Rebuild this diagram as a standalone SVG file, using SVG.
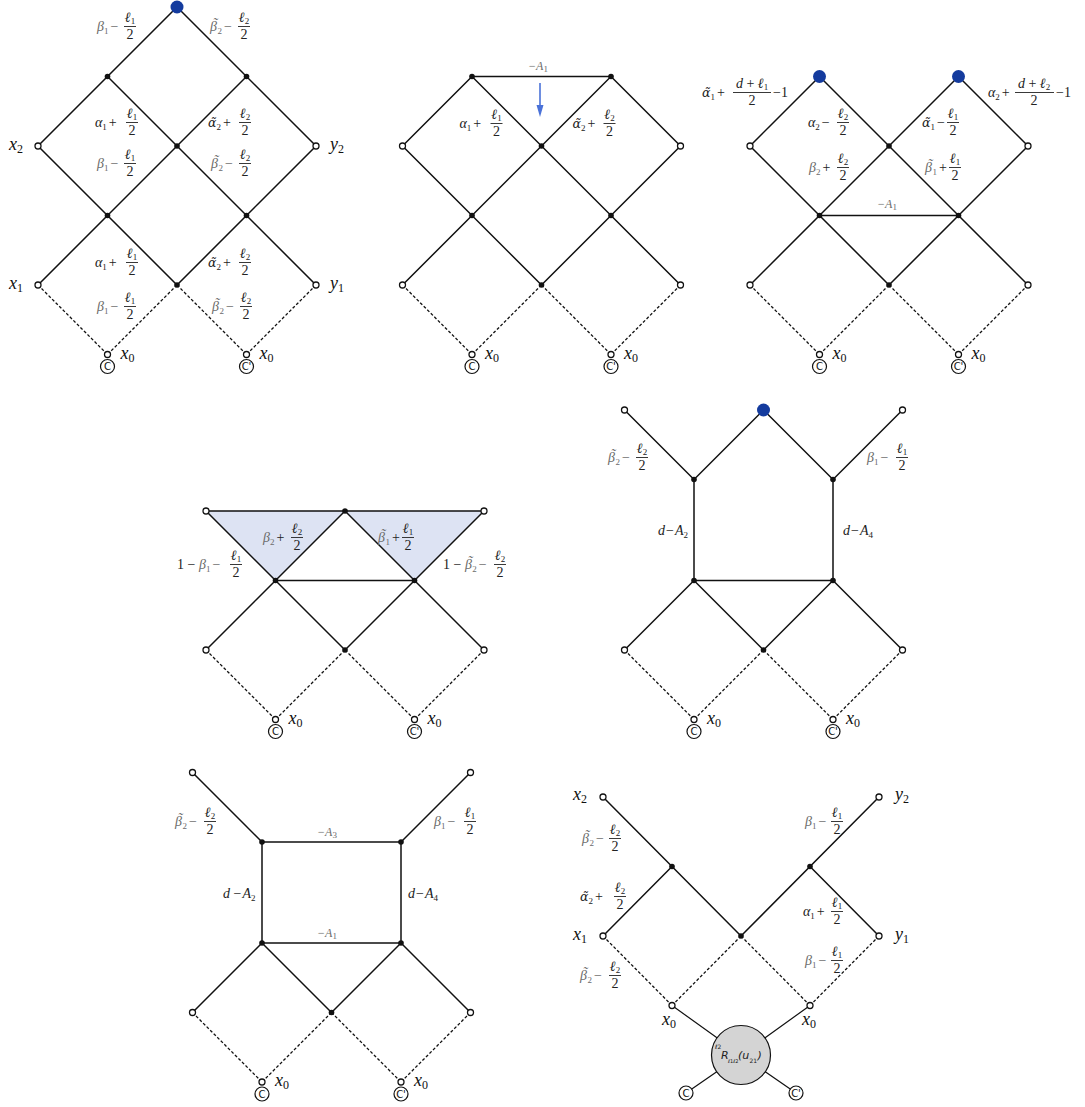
<svg xmlns="http://www.w3.org/2000/svg" width="1085" height="1107" viewBox="0 0 1085 1107">
<style>
.s{stroke:#111;stroke-width:1.5;fill:none}
.d{stroke:#111;stroke-width:1.3;fill:none;stroke-dasharray:3 2}
.tri{fill:#dde3f3;stroke:none}
.L{font-family:"Liberation Serif","Times New Roman",serif;font-size:14px;font-style:italic;fill:#222}
.u{font-style:normal}
.sb{font-size:9px;font-style:normal}
.dj{font-family:"DejaVu Serif",serif;font-size:12.5px}
.g{fill:#6b6b6b}
.m{text-anchor:middle}
.fb{stroke:#222;stroke-width:0.9}
.X{font-family:"Liberation Serif","Times New Roman",serif;font-size:18px;font-style:italic;fill:#111}
.xs{font-size:12px;font-style:normal}
.A{font-size:12px}
.rt{font-family:"DejaVu Sans",sans-serif;fill:#222}
</style>
<defs>
<circle id="od" r="3" fill="#fff" stroke="#111" stroke-width="1.3"/>
<circle id="fd" r="2.8" fill="#111"/>
<circle id="bd" r="6.5" fill="#143b9e"/>
<g id="cC"><circle r="7" fill="#fff" stroke="#111" stroke-width="1.2"/><text y="3.6" font-family="DejaVu Sans, sans-serif" font-size="10" text-anchor="middle" fill="#111">C</text></g>
<g id="cCp"><circle r="7" fill="#fff" stroke="#111" stroke-width="1.2"/><text y="3.6" font-family="DejaVu Sans, sans-serif" font-size="10" text-anchor="middle" fill="#111">C'</text></g>
</defs>

<!-- ===== Panel 1 ===== -->
<g id="panel1">
<g id="p1-edges">
<path class="s" d="M177,7L38,146L107.5,215.5M177,7L316,146L246.5,215.5M107.5,76.5L246.5,215.5M246.5,76.5L107.5,215.5M107.5,215.5L38,285M107.5,215.5L177,285M246.5,215.5L177,285M246.5,215.5L316,285"/>
<path class="d" d="M38,285L107.5,354.5M177,285L107.5,354.5M177,285L246.5,354.5M316,285L246.5,354.5"/>
</g>
<g id="p1-top"><use href="#bd" x="177" y="7"/></g>
<g id="p1-a"><use href="#fd" x="107.5" y="76.5"/></g>
<g id="p1-b"><use href="#fd" x="246.5" y="76.5"/></g>
<g id="p1-x2"><use href="#od" x="38" y="146"/></g>
<g id="p1-c"><use href="#fd" x="177" y="146"/></g>
<g id="p1-y2"><use href="#od" x="316" y="146"/></g>
<g id="p1-d"><use href="#fd" x="107.5" y="215.5"/></g>
<g id="p1-e"><use href="#fd" x="246.5" y="215.5"/></g>
<g id="p1-x1"><use href="#od" x="38" y="285"/></g>
<g id="p1-f"><use href="#fd" x="177" y="285"/></g>
<g id="p1-y1"><use href="#od" x="316" y="285"/></g>
<g id="p1-x0a"><use href="#od" x="107.5" y="354.5"/></g>
<g id="p1-x0b"><use href="#od" x="246.5" y="354.5"/></g>
<g id="p1-C"><use href="#cC" x="107.5" y="366.5"/></g>
<g id="p1-Cp"><use href="#cCp" x="246.5" y="366.5"/></g>
</g>

<!-- ===== Panel 2 ===== -->
<g id="panel2" transform="translate(364.5,0)">
<g id="p2-edges">
<path class="s" d="M107.5,76.5L246.5,76.5M107.5,76.5L38,146L107.5,215.5M246.5,76.5L316,146L246.5,215.5M107.5,76.5L246.5,215.5M246.5,76.5L107.5,215.5M107.5,215.5L38,285M107.5,215.5L177,285M246.5,215.5L177,285M246.5,215.5L316,285"/>
<path class="d" d="M38,285L107.5,354.5M177,285L107.5,354.5M177,285L246.5,354.5M316,285L246.5,354.5"/>
</g>
<g id="p2-a"><use href="#fd" x="107.5" y="76.5"/></g>
<g id="p2-b"><use href="#fd" x="246.5" y="76.5"/></g>
<g id="p2-l"><use href="#od" x="38" y="146"/></g>
<g id="p2-c"><use href="#fd" x="177" y="146"/></g>
<g id="p2-r"><use href="#od" x="316" y="146"/></g>
<g id="p2-d"><use href="#fd" x="107.5" y="215.5"/></g>
<g id="p2-e"><use href="#fd" x="246.5" y="215.5"/></g>
<g id="p2-l2"><use href="#od" x="38" y="285"/></g>
<g id="p2-f"><use href="#fd" x="177" y="285"/></g>
<g id="p2-r2"><use href="#od" x="316" y="285"/></g>
<g id="p2-x0a"><use href="#od" x="107.5" y="354.5"/></g>
<g id="p2-x0b"><use href="#od" x="246.5" y="354.5"/></g>
<g id="p2-C"><use href="#cC" x="107.5" y="366.5"/></g>
<g id="p2-Cp"><use href="#cCp" x="246.5" y="366.5"/></g>
</g>
<g id="p2-arrow">
<line x1="540" y1="83" x2="540" y2="107" stroke="#4a72d8" stroke-width="1.6"/>
<polygon points="536.5,105 543.5,105 540,117" fill="#4a72d8"/>
</g>

<!-- ===== Panel 3 ===== -->
<g id="panel3" transform="translate(712,0)">
<g id="p3-edges">
<path class="s" d="M107.5,76.5L38,146L107.5,215.5M246.5,76.5L316,146L246.5,215.5M107.5,76.5L246.5,215.5M246.5,76.5L107.5,215.5M107.5,215.5L246.5,215.5M107.5,215.5L38,285M107.5,215.5L177,285M246.5,215.5L177,285M246.5,215.5L316,285"/>
<path class="d" d="M38,285L107.5,354.5M177,285L107.5,354.5M177,285L246.5,354.5M316,285L246.5,354.5"/>
</g>
<g id="p3-ba"><use href="#bd" x="107.5" y="76.5"/></g>
<g id="p3-bb"><use href="#bd" x="246.5" y="76.5"/></g>
<g id="p3-l"><use href="#od" x="38" y="146"/></g>
<g id="p3-c"><use href="#fd" x="177" y="146"/></g>
<g id="p3-r"><use href="#od" x="316" y="146"/></g>
<g id="p3-d"><use href="#fd" x="107.5" y="215.5"/></g>
<g id="p3-e"><use href="#fd" x="246.5" y="215.5"/></g>
<g id="p3-l2"><use href="#od" x="38" y="285"/></g>
<g id="p3-f"><use href="#fd" x="177" y="285"/></g>
<g id="p3-r2"><use href="#od" x="316" y="285"/></g>
<g id="p3-x0a"><use href="#od" x="107.5" y="354.5"/></g>
<g id="p3-x0b"><use href="#od" x="246.5" y="354.5"/></g>
<g id="p3-C"><use href="#cC" x="107.5" y="366.5"/></g>
<g id="p3-Cp"><use href="#cCp" x="246.5" y="366.5"/></g>
</g>

<!-- ===== Panel 4 ===== -->
<g id="panel4" transform="translate(168,365)">
<polygon class="tri" points="38,146 177,146 107.5,215.5"/>
<polygon class="tri" points="177,146 316,146 246.5,215.5"/>
<g id="p4-edges">
<path class="s" d="M38,146L316,146M38,146L107.5,215.5M177,146L107.5,215.5M177,146L246.5,215.5M316,146L246.5,215.5M107.5,215.5L246.5,215.5M107.5,215.5L38,285M107.5,215.5L177,285M246.5,215.5L177,285M246.5,215.5L316,285"/>
<path class="d" d="M38,285L107.5,354.5M177,285L107.5,354.5M177,285L246.5,354.5M316,285L246.5,354.5"/>
</g>
<g id="p4-l"><use href="#od" x="38" y="146"/></g>
<g id="p4-c"><use href="#fd" x="177" y="146"/></g>
<g id="p4-r"><use href="#od" x="316" y="146"/></g>
<g id="p4-d"><use href="#fd" x="107.5" y="215.5"/></g>
<g id="p4-e"><use href="#fd" x="246.5" y="215.5"/></g>
<g id="p4-l2"><use href="#od" x="38" y="285"/></g>
<g id="p4-f"><use href="#fd" x="177" y="285"/></g>
<g id="p4-r2"><use href="#od" x="316" y="285"/></g>
<g id="p4-x0a"><use href="#od" x="107.5" y="354.5"/></g>
<g id="p4-x0b"><use href="#od" x="246.5" y="354.5"/></g>
<g id="p4-C"><use href="#cC" x="107.5" y="366.5"/></g>
<g id="p4-Cp"><use href="#cCp" x="246.5" y="366.5"/></g>
</g>

<!-- ===== Panel 5 ===== -->
<g id="panel5" transform="translate(586.5,365)">
<g id="p5-edges">
<path class="s" d="M38,45L107.5,114.5L177,45L246.5,114.5L316,45M107.5,114.5L107.5,215.5L246.5,215.5L246.5,114.5M107.5,215.5L38,285M107.5,215.5L177,285M246.5,215.5L177,285M246.5,215.5L316,285"/>
<path class="d" d="M38,285L107.5,354.5M177,285L107.5,354.5M177,285L246.5,354.5M316,285L246.5,354.5"/>
</g>
<g id="p5-l"><use href="#od" x="38" y="45"/></g>
<g id="p5-top"><use href="#bd" x="177" y="45"/></g>
<g id="p5-r"><use href="#od" x="316" y="45"/></g>
<g id="p5-a"><use href="#fd" x="107.5" y="114.5"/></g>
<g id="p5-b"><use href="#fd" x="246.5" y="114.5"/></g>
<g id="p5-d"><use href="#fd" x="107.5" y="215.5"/></g>
<g id="p5-e"><use href="#fd" x="246.5" y="215.5"/></g>
<g id="p5-l2"><use href="#od" x="38" y="285"/></g>
<g id="p5-f"><use href="#fd" x="177" y="285"/></g>
<g id="p5-r2"><use href="#od" x="316" y="285"/></g>
<g id="p5-x0a"><use href="#od" x="107.5" y="354.5"/></g>
<g id="p5-x0b"><use href="#od" x="246.5" y="354.5"/></g>
<g id="p5-C"><use href="#cC" x="107.5" y="366.5"/></g>
<g id="p5-Cp"><use href="#cCp" x="246.5" y="366.5"/></g>
</g>

<!-- ===== Panel 6 ===== -->
<g id="panel6" transform="translate(154.5,727.5)">
<g id="p6-edges">
<path class="s" d="M38,45L107.5,114.5M316,45L246.5,114.5M107.5,114.5L246.5,114.5L246.5,215.5L107.5,215.5Z M107.5,215.5L38,285M107.5,215.5L177,285M246.5,215.5L177,285M246.5,215.5L316,285"/>
<path class="d" d="M38,285L107.5,354.5M177,285L107.5,354.5M177,285L246.5,354.5M316,285L246.5,354.5"/>
</g>
<g id="p6-l"><use href="#od" x="38" y="45"/></g>
<g id="p6-r"><use href="#od" x="316" y="45"/></g>
<g id="p6-a"><use href="#fd" x="107.5" y="114.5"/></g>
<g id="p6-b"><use href="#fd" x="246.5" y="114.5"/></g>
<g id="p6-d"><use href="#fd" x="107.5" y="215.5"/></g>
<g id="p6-e"><use href="#fd" x="246.5" y="215.5"/></g>
<g id="p6-l2"><use href="#od" x="38" y="285"/></g>
<g id="p6-f"><use href="#fd" x="177" y="285"/></g>
<g id="p6-r2"><use href="#od" x="316" y="285"/></g>
<g id="p6-x0a"><use href="#od" x="107.5" y="354.5"/></g>
<g id="p6-x0b"><use href="#od" x="246.5" y="354.5"/></g>
<g id="p6-C"><use href="#cC" x="107.5" y="366.5"/></g>
<g id="p6-Cp"><use href="#cCp" x="246.5" y="366.5"/></g>
</g>

<!-- ===== Panel 7 ===== -->
<g id="panel7">
<g id="p7-edges">
<path class="s" d="M603,797L741,936M879,797L741,936M672,866.5L603,936M810,866.5L879,936"/>
<path class="d" d="M603,936L672,1005.5M741,936L672,1005.5M741,936L810,1005.5M879,936L810,1005.5"/>
<path stroke="#111" stroke-width="1.2" fill="none" d="M672,1005.5L741,1055M810,1005.5L741,1055M686,1093L741,1055M796,1093L741,1055"/>
</g>
<g id="p7-x2"><use href="#od" x="603" y="797"/></g>
<g id="p7-y2"><use href="#od" x="879" y="797"/></g>
<g id="p7-a"><use href="#fd" x="672" y="866.5"/></g>
<g id="p7-b"><use href="#fd" x="810" y="866.5"/></g>
<g id="p7-x1"><use href="#od" x="603" y="936"/></g>
<g id="p7-c"><use href="#fd" x="741" y="936"/></g>
<g id="p7-y1"><use href="#od" x="879" y="936"/></g>
<g id="p7-x0a"><use href="#od" x="672" y="1005.5"/></g>
<g id="p7-x0b"><use href="#od" x="810" y="1005.5"/></g>
<g id="p7-R">
<circle cx="741" cy="1055" r="29.5" fill="#d4d4d4" stroke="#111" stroke-width="1.2"/>
<text class="rt" x="715" y="1049" font-size="6">ℓ2</text>
<text class="rt" x="721" y="1059" font-size="11" font-style="italic">R</text>
<text class="rt" x="728" y="1063" font-size="5">ℓ1ℓ2</text>
<text class="rt" x="738" y="1059" font-size="11" font-style="italic">(u</text>
<text class="rt" x="749.5" y="1063" font-size="6">21</text>
<text class="rt" x="757.5" y="1059" font-size="11" font-style="italic">)</text>
</g>
<g id="p7-C"><use href="#cC" x="686" y="1093"/></g>
<g id="p7-Cp"><use href="#cCp" x="796" y="1093"/></g>
</g>

<!-- ===== Labels ===== -->
<g id="labels">
<!-- panel 1 -->
<text class="X" x="9" y="150">x<tspan class="xs" dy="3">2</tspan></text>
<text class="X" x="330" y="150">y<tspan class="xs" dy="3">2</tspan></text>
<text class="X" x="9" y="289">x<tspan class="xs" dy="3">1</tspan></text>
<text class="X" x="330" y="289">y<tspan class="xs" dy="3">1</tspan></text>
<text class="X" x="120.5" y="358.5">x<tspan class="xs" dy="3">0</tspan></text>
<text class="X" x="259.5" y="358.5">x<tspan class="xs" dy="3">0</tspan></text>

<g transform="translate(97,31)"><text class="L"><tspan class="g">β</tspan><tspan class="sb g" dy="3">1</tspan><tspan class="u g" dy="-3" dx="2">−</tspan></text><text class="L m" x="33" y="-9">ℓ<tspan class="sb" dy="2">1</tspan></text><line class="fb" x1="27" y1="-4.5" x2="39" y2="-4.5"/><text class="L m u" x="33" y="8">2</text></g>
<g transform="translate(210,31)"><text class="L"><tspan class="g" dx="0 -4.2" dy="0 -3.5">β˜</tspan><tspan class="sb g" dx="0" dy="6.5">2</tspan><tspan class="u g" dy="-3" dx="2">−</tspan></text><text class="L m" x="34" y="-9">ℓ<tspan class="sb" dy="2">2</tspan></text><line class="fb" x1="28" y1="-4.5" x2="40" y2="-4.5"/><text class="L m u" x="34" y="8">2</text></g>
<g transform="translate(95,127)"><text class="L">α<tspan class="sb" dy="3">1</tspan><tspan class="u" dy="-3" dx="2">+</tspan></text><text class="L m" x="37" y="-9">ℓ<tspan class="sb" dy="2">1</tspan></text><line class="fb" x1="31" y1="-4.5" x2="43" y2="-4.5"/><text class="L m u" x="37" y="8">2</text></g>
<g transform="translate(208,127)"><text class="L"><tspan class="dj">α&#x303;</tspan><tspan class="sb" dy="3">2</tspan><tspan class="u" dy="-3" dx="2">+</tspan></text><text class="L m" x="37" y="-9">ℓ<tspan class="sb" dy="2">2</tspan></text><line class="fb" x1="31" y1="-4.5" x2="43" y2="-4.5"/><text class="L m u" x="37" y="8">2</text></g>
<g transform="translate(97,168)"><text class="L"><tspan class="g">β</tspan><tspan class="sb g" dy="3">1</tspan><tspan class="u g" dy="-3" dx="2">−</tspan></text><text class="L m" x="33" y="-9">ℓ<tspan class="sb" dy="2">1</tspan></text><line class="fb" x1="27" y1="-4.5" x2="39" y2="-4.5"/><text class="L m u" x="33" y="8">2</text></g>
<g transform="translate(211,168)"><text class="L"><tspan class="g" dx="0 -4.2" dy="0 -3.5">β˜</tspan><tspan class="sb g" dx="0" dy="6.5">2</tspan><tspan class="u g" dy="-3" dx="2">−</tspan></text><text class="L m" x="34" y="-9">ℓ<tspan class="sb" dy="2">2</tspan></text><line class="fb" x1="28" y1="-4.5" x2="40" y2="-4.5"/><text class="L m u" x="34" y="8">2</text></g>
<g transform="translate(95,267)"><text class="L">α<tspan class="sb" dy="3">1</tspan><tspan class="u" dy="-3" dx="2">+</tspan></text><text class="L m" x="37" y="-9">ℓ<tspan class="sb" dy="2">1</tspan></text><line class="fb" x1="31" y1="-4.5" x2="43" y2="-4.5"/><text class="L m u" x="37" y="8">2</text></g>
<g transform="translate(208,267)"><text class="L"><tspan class="dj">α&#x303;</tspan><tspan class="sb" dy="3">2</tspan><tspan class="u" dy="-3" dx="2">+</tspan></text><text class="L m" x="37" y="-9">ℓ<tspan class="sb" dy="2">2</tspan></text><line class="fb" x1="31" y1="-4.5" x2="43" y2="-4.5"/><text class="L m u" x="37" y="8">2</text></g>
<g transform="translate(97,311)"><text class="L"><tspan class="g">β</tspan><tspan class="sb g" dy="3">1</tspan><tspan class="u g" dy="-3" dx="2">−</tspan></text><text class="L m" x="33" y="-9">ℓ<tspan class="sb" dy="2">1</tspan></text><line class="fb" x1="27" y1="-4.5" x2="39" y2="-4.5"/><text class="L m u" x="33" y="8">2</text></g>
<g transform="translate(212,311)"><text class="L"><tspan class="g" dx="0 -4.2" dy="0 -3.5">β˜</tspan><tspan class="sb g" dx="0" dy="6.5">2</tspan><tspan class="u g" dy="-3" dx="2">−</tspan></text><text class="L m" x="34" y="-9">ℓ<tspan class="sb" dy="2">2</tspan></text><line class="fb" x1="28" y1="-4.5" x2="40" y2="-4.5"/><text class="L m u" x="34" y="8">2</text></g>

<!-- panel 2 -->
<text class="L g A" x="528" y="70">−A<tspan class="sb" dy="2">1</tspan></text>
<g transform="translate(459.5,128)"><text class="L">α<tspan class="sb" dy="3">1</tspan><tspan class="u" dy="-3" dx="2">+</tspan></text><text class="L m" x="37" y="-9">ℓ<tspan class="sb" dy="2">1</tspan></text><line class="fb" x1="31" y1="-4.5" x2="43" y2="-4.5"/><text class="L m u" x="37" y="8">2</text></g>
<g transform="translate(572.5,128)"><text class="L"><tspan class="dj">α&#x303;</tspan><tspan class="sb" dy="3">2</tspan><tspan class="u" dy="-3" dx="2">+</tspan></text><text class="L m" x="37" y="-9">ℓ<tspan class="sb" dy="2">2</tspan></text><line class="fb" x1="31" y1="-4.5" x2="43" y2="-4.5"/><text class="L m u" x="37" y="8">2</text></g>
<text class="X" x="485" y="358.5">x<tspan class="xs" dy="3">0</tspan></text>
<text class="X" x="624" y="358.5">x<tspan class="xs" dy="3">0</tspan></text>

<!-- panel 3 -->
<g transform="translate(702,97)"><text class="L"><tspan class="dj">α&#x303;</tspan><tspan class="sb" dy="3">1</tspan><tspan class="u" dy="-3" dx="2">+</tspan></text><text class="L m" x="50" y="-9">d <tspan class="u">+</tspan> ℓ<tspan class="sb" dy="2">1</tspan></text><line class="fb" x1="31" y1="-4.5" x2="69" y2="-4.5"/><text class="L m u" x="50" y="8">2</text><text class="L u" x="71" y="0">−1</text></g>
<g transform="translate(988,97)"><text class="L">α<tspan class="sb" dy="3">2</tspan><tspan class="u" dy="-3" dx="2">+</tspan></text><text class="L m" x="46" y="-9">d <tspan class="u">+</tspan> ℓ<tspan class="sb" dy="2">2</tspan></text><line class="fb" x1="27" y1="-4.5" x2="66" y2="-4.5"/><text class="L m u" x="46" y="8">2</text><text class="L u" x="68" y="0">−1</text></g>
<g transform="translate(808,127)"><text class="L">α<tspan class="sb" dy="3">2</tspan><tspan class="u" dy="-3" dx="2">−</tspan></text><text class="L m" x="35" y="-9">ℓ<tspan class="sb" dy="2">2</tspan></text><line class="fb" x1="29" y1="-4.5" x2="41" y2="-4.5"/><text class="L m u" x="35" y="8">2</text></g>
<g transform="translate(922,127)"><text class="L"><tspan class="dj">α&#x303;</tspan><tspan class="sb" dy="3">1</tspan><tspan class="u" dy="-3" dx="2">−</tspan></text><text class="L m" x="31" y="-9">ℓ<tspan class="sb" dy="2">1</tspan></text><line class="fb" x1="25" y1="-4.5" x2="37" y2="-4.5"/><text class="L m u" x="31" y="8">2</text></g>
<g transform="translate(809,172)"><text class="L"><tspan class="g">β</tspan><tspan class="sb g" dy="3">2</tspan><tspan class="u" dy="-3" dx="2">+</tspan></text><text class="L m" x="34" y="-9">ℓ<tspan class="sb" dy="2">2</tspan></text><line class="fb" x1="28" y1="-4.5" x2="40" y2="-4.5"/><text class="L m u" x="34" y="8">2</text></g>
<g transform="translate(925,172)"><text class="L"><tspan class="g" dx="0 -4.2" dy="0 -3.5">β˜</tspan><tspan class="sb g" dx="0" dy="6.5">1</tspan><tspan class="u" dy="-3" dx="2">+</tspan></text><text class="L m" x="30" y="-9">ℓ<tspan class="sb" dy="2">1</tspan></text><line class="fb" x1="24" y1="-4.5" x2="36" y2="-4.5"/><text class="L m u" x="30" y="8">2</text></g>
<text class="L g A" x="877" y="208">−A<tspan class="sb" dy="2">1</tspan></text>
<text class="X" x="832.5" y="358.5">x<tspan class="xs" dy="3">0</tspan></text>
<text class="X" x="971.5" y="358.5">x<tspan class="xs" dy="3">0</tspan></text>

<!-- panel 4 -->
<g transform="translate(263,542)"><text class="L"><tspan class="g">β</tspan><tspan class="sb g" dy="3">2</tspan><tspan class="u" dy="-3" dx="2">+</tspan></text><text class="L m" x="34" y="-9">ℓ<tspan class="sb" dy="2">2</tspan></text><line class="fb" x1="28" y1="-4.5" x2="40" y2="-4.5"/><text class="L m u" x="34" y="8">2</text></g>
<g transform="translate(378,542)"><text class="L"><tspan class="g" dx="0 -4.2" dy="0 -3.5">β˜</tspan><tspan class="sb g" dx="0" dy="6.5">1</tspan><tspan class="u" dy="-3" dx="2">+</tspan></text><text class="L m" x="30" y="-9">ℓ<tspan class="sb" dy="2">1</tspan></text><line class="fb" x1="24" y1="-4.5" x2="36" y2="-4.5"/><text class="L m u" x="30" y="8">2</text></g>
<g transform="translate(177,569)"><text class="L"><tspan class="u">1 − </tspan><tspan class="g">β</tspan><tspan class="sb g" dy="3">1</tspan><tspan class="u g" dy="-3" dx="2">−</tspan></text><text class="L m" x="59" y="-9">ℓ<tspan class="sb" dy="2">1</tspan></text><line class="fb" x1="53" y1="-4.5" x2="65" y2="-4.5"/><text class="L m u" x="59" y="8">2</text></g>
<g transform="translate(443,569)"><text class="L"><tspan class="u">1 − </tspan><tspan class="g" dx="0 -4.2" dy="0 -3.5">β˜</tspan><tspan class="sb g" dx="0" dy="6.5">2</tspan><tspan class="u g" dy="-3" dx="2">−</tspan></text><text class="L m" x="57" y="-9">ℓ<tspan class="sb" dy="2">2</tspan></text><line class="fb" x1="51" y1="-4.5" x2="63" y2="-4.5"/><text class="L m u" x="57" y="8">2</text></g>
<text class="X" x="288.5" y="723.5">x<tspan class="xs" dy="3">0</tspan></text>
<text class="X" x="427.5" y="723.5">x<tspan class="xs" dy="3">0</tspan></text>

<!-- panel 5 -->
<g transform="translate(608,462)"><text class="L"><tspan class="g" dx="0 -4.2" dy="0 -3.5">β˜</tspan><tspan class="sb g" dx="0" dy="6.5">2</tspan><tspan class="u g" dy="-3" dx="2">−</tspan></text><text class="L m" x="34" y="-9">ℓ<tspan class="sb" dy="2">2</tspan></text><line class="fb" x1="28" y1="-4.5" x2="40" y2="-4.5"/><text class="L m u" x="34" y="8">2</text></g>
<g transform="translate(867,462)"><text class="L"><tspan class="g">β</tspan><tspan class="sb g" dy="3">1</tspan><tspan class="u g" dy="-3" dx="2">−</tspan></text><text class="L m" x="35" y="-9">ℓ<tspan class="sb" dy="2">1</tspan></text><line class="fb" x1="29" y1="-4.5" x2="41" y2="-4.5"/><text class="L m u" x="35" y="8">2</text></g>
<text class="L" x="658" y="535">d<tspan class="u" dx="1">−</tspan><tspan dx="1">A</tspan><tspan class="sb" dy="3">2</tspan></text>
<text class="L" x="843" y="535">d<tspan class="u" dx="1">−</tspan><tspan dx="1">A</tspan><tspan class="sb" dy="3">4</tspan></text>
<text class="X" x="707" y="723.5">x<tspan class="xs" dy="3">0</tspan></text>
<text class="X" x="846" y="723.5">x<tspan class="xs" dy="3">0</tspan></text>

<!-- panel 6 -->
<g transform="translate(175,826)"><text class="L"><tspan class="g" dx="0 -4.2" dy="0 -3.5">β˜</tspan><tspan class="sb g" dx="0" dy="6.5">2</tspan><tspan class="u g" dy="-3" dx="2">−</tspan></text><text class="L m" x="35" y="-9">ℓ<tspan class="sb" dy="2">2</tspan></text><line class="fb" x1="29" y1="-4.5" x2="41" y2="-4.5"/><text class="L m u" x="35" y="8">2</text></g>
<g transform="translate(434,826)"><text class="L"><tspan class="g">β</tspan><tspan class="sb g" dy="3">1</tspan><tspan class="u g" dy="-3" dx="2">−</tspan></text><text class="L m" x="36" y="-9">ℓ<tspan class="sb" dy="2">1</tspan></text><line class="fb" x1="30" y1="-4.5" x2="42" y2="-4.5"/><text class="L m u" x="36" y="8">2</text></g>
<text class="L g A" x="317" y="836">−A<tspan class="sb" dy="2">3</tspan></text>
<text class="L g A" x="317" y="937">−A<tspan class="sb" dy="2">1</tspan></text>
<text class="L" x="223" y="898">d <tspan class="u">−</tspan><tspan dx="1">A</tspan><tspan class="sb" dy="3">2</tspan></text>
<text class="L" x="408" y="898">d<tspan class="u" dx="1">−</tspan><tspan dx="1">A</tspan><tspan class="sb" dy="3">4</tspan></text>
<text class="X" x="275" y="1086">x<tspan class="xs" dy="3">0</tspan></text>
<text class="X" x="414" y="1086">x<tspan class="xs" dy="3">0</tspan></text>

<!-- panel 7 -->
<text class="X" x="573" y="800">x<tspan class="xs" dy="3">2</tspan></text>
<text class="X" x="895" y="800">y<tspan class="xs" dy="3">2</tspan></text>
<text class="X" x="573" y="940">x<tspan class="xs" dy="3">1</tspan></text>
<text class="X" x="895" y="940">y<tspan class="xs" dy="3">1</tspan></text>
<g transform="translate(582,843)"><text class="L"><tspan class="g" dx="0 -4.2" dy="0 -3.5">β˜</tspan><tspan class="sb g" dx="0" dy="6.5">2</tspan><tspan class="u g" dy="-3" dx="2">−</tspan></text><text class="L m" x="33" y="-9">ℓ<tspan class="sb" dy="2">2</tspan></text><line class="fb" x1="27" y1="-4.5" x2="39" y2="-4.5"/><text class="L m u" x="33" y="8">2</text></g>
<g transform="translate(805,826)"><text class="L"><tspan class="g">β</tspan><tspan class="sb g" dy="3">1</tspan><tspan class="u g" dy="-3" dx="2">−</tspan></text><text class="L m" x="32" y="-9">ℓ<tspan class="sb" dy="2">1</tspan></text><line class="fb" x1="26" y1="-4.5" x2="38" y2="-4.5"/><text class="L m u" x="32" y="8">2</text></g>
<g transform="translate(580,901)"><text class="L"><tspan class="dj">α&#x303;</tspan><tspan class="sb" dy="3">2</tspan><tspan class="u" dy="-3" dx="2">+</tspan></text><text class="L m" x="40" y="-9">ℓ<tspan class="sb" dy="2">2</tspan></text><line class="fb" x1="34" y1="-4.5" x2="46" y2="-4.5"/><text class="L m u" x="40" y="8">2</text></g>
<g transform="translate(803,916)"><text class="L">α<tspan class="sb" dy="3">1</tspan><tspan class="u" dy="-3" dx="2">+</tspan></text><text class="L m" x="34" y="-9">ℓ<tspan class="sb" dy="2">1</tspan></text><line class="fb" x1="28" y1="-4.5" x2="40" y2="-4.5"/><text class="L m u" x="34" y="8">2</text></g>
<g transform="translate(805,965)"><text class="L"><tspan class="g">β</tspan><tspan class="sb g" dy="3">1</tspan><tspan class="u g" dy="-3" dx="2">−</tspan></text><text class="L m" x="32" y="-9">ℓ<tspan class="sb" dy="2">1</tspan></text><line class="fb" x1="26" y1="-4.5" x2="38" y2="-4.5"/><text class="L m u" x="32" y="8">2</text></g>
<g transform="translate(580,980)"><text class="L"><tspan class="g" dx="0 -4.2" dy="0 -3.5">β˜</tspan><tspan class="sb g" dx="0" dy="6.5">2</tspan><tspan class="u g" dy="-3" dx="2">−</tspan></text><text class="L m" x="35" y="-9">ℓ<tspan class="sb" dy="2">2</tspan></text><line class="fb" x1="29" y1="-4.5" x2="41" y2="-4.5"/><text class="L m u" x="35" y="8">2</text></g>
<text class="X" x="662" y="1025">x<tspan class="xs" dy="3">0</tspan></text>
<text class="X" x="802" y="1025">x<tspan class="xs" dy="3">0</tspan></text>
</g>
</svg>
